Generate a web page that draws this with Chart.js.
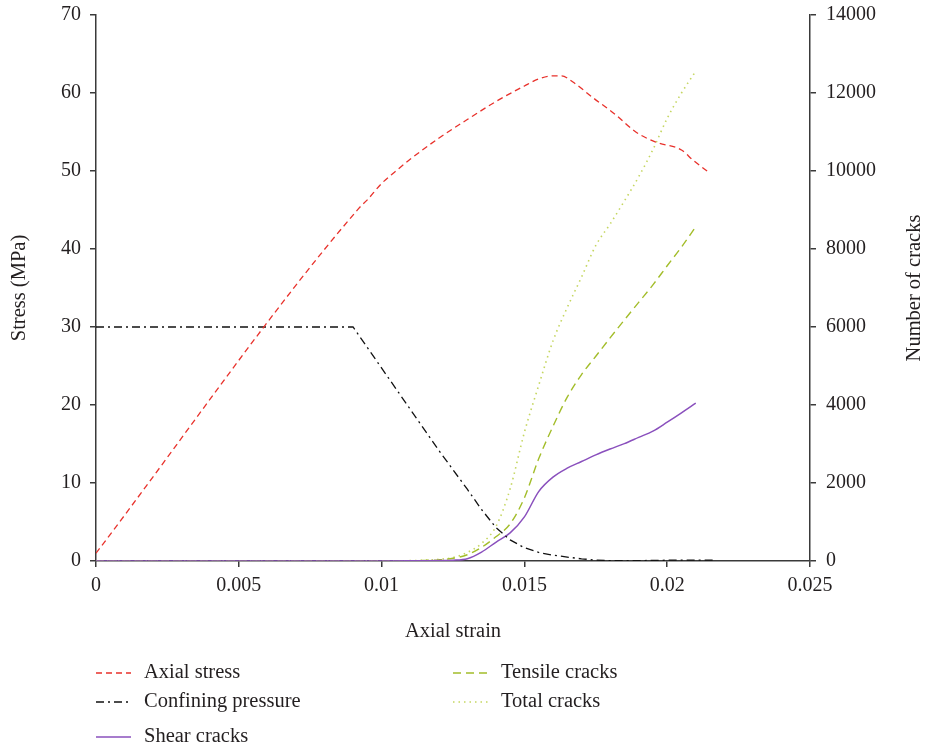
<!DOCTYPE html>
<html>
<head>
<meta charset="utf-8">
<title>Stress and cracks vs axial strain</title>
<script src="https://cdn.jsdelivr.net/npm/chart.js@4.4.1/dist/chart.umd.min.js"></script>
<style>
  html, body { margin: 0; padding: 0; background: #fff; }
  #wrap { width: 929px; height: 750px; }
</style>
</head>
<body>
<div id="wrap"><canvas id="chart" width="929" height="750"></canvas></div>
<script>
/* ── DATA ── */
const stressStrain = [0, 0.0092, 0.0095, 0.010, 0.0105, 0.011, 0.012, 0.013, 0.014, 0.015, 0.0155, 0.016, 0.0163, 0.0167, 0.0174, 0.0182, 0.0189, 0.0196, 0.0205, 0.0209, 0.0215];
const axialStress = [1.0, 45.2, 46.3, 48.4, 50.0, 51.5, 54.2, 56.6, 58.9, 60.9, 61.8, 62.2, 62.2, 61.4, 59.4, 57.2, 55.0, 53.7, 52.7, 51.4, 49.7];

const confStrain = [0, 0.009, 0.012, 0.0125, 0.013, 0.0135, 0.014, 0.0145, 0.015, 0.0155, 0.016, 0.0165, 0.017, 0.0175, 0.018, 0.019, 0.020, 0.021, 0.0216];
const confPressure = [30, 30, 14.2, 11.7, 9.2, 6.6, 4.3, 2.7, 1.7, 1.1, 0.75, 0.5, 0.28, 0.12, 0.05, 0.05, 0.1, 0.1, 0.1];

const crackStrain = [0, 0.002, 0.004, 0.006, 0.008, 0.010, 0.011, 0.0115, 0.012, 0.0125, 0.013, 0.0135, 0.014, 0.0145, 0.015, 0.0155, 0.016, 0.0165, 0.017, 0.0175, 0.018, 0.0185, 0.019, 0.0195, 0.020, 0.0205, 0.021];
const shearCracks = [0, 0, 0, 0, 0, 2, 5, 8, 12, 20, 60, 230, 480, 720, 1130, 1780, 2150, 2380, 2550, 2720, 2870, 3010, 3170, 3330, 3560, 3800, 4050];
const tensileCracks = [0, 0, 0, 0, 0, 2, 5, 15, 30, 70, 160, 350, 620, 950, 1620, 2620, 3450, 4200, 4780, 5250, 5720, 6180, 6630, 7080, 7570, 8050, 8570];
const totalCracks = [0, 0, 0, 0, 0, 4, 10, 23, 42, 90, 220, 450, 880, 1850, 3300, 4500, 5640, 6500, 7280, 8090, 8640, 9230, 9850, 10550, 11350, 12000, 12560];

const xTicks = [0, 0.005, 0.01, 0.015, 0.02, 0.025];
const stressTicks = [0, 10, 20, 30, 40, 50, 60, 70];
const crackTicks = [0, 2000, 4000, 6000, 8000, 10000, 12000, 14000];

const FONT = "'Liberation Serif', 'DejaVu Serif', serif";
const INK = "#231f20";
const AXIS = "#3a3a3a";

const pts = (xs, ys) => xs.map((x, i) => ({ x: x, y: ys[i] }));

/* ── PLUGINS ── */
// legend below the x title, two columns
const legendRows = [
  { ds: 0, x: 96, y: 673 },
  { ds: 1, x: 96, y: 702 },
  { ds: 2, x: 96, y: 737 },
  { ds: 3, x: 453, y: 673 },
  { ds: 4, x: 453, y: 702 },
];

const sideLegend = {
  id: "sideLegend",
  afterDraw(chart) {
    const c = chart.ctx;
    c.save();
    c.font = "20.5px " + FONT;
    c.fillStyle = INK;
    c.textBaseline = "middle";
    legendRows.forEach((r) => {
      const d = chart.data.datasets[r.ds];
      c.save();
      c.strokeStyle = d.borderColor;
      c.lineWidth = d.borderWidth;
      c.setLineDash(d.borderDash || []);
      c.beginPath();
      c.moveTo(r.x, r.y);
      c.lineTo(r.x + 35, r.y);
      c.stroke();
      c.restore();
      c.fillText(d.label, r.x + 48, r.y);
    });

    // right axis title reads bottom-to-top
    const a = chart.chartArea;
    c.translate(915, (a.top + a.bottom) / 2);
    c.rotate(-Math.PI / 2);
    c.textAlign = "center";
    c.fillText("Number of cracks", 0, 0);
    c.restore();
  },
};

/* ── CHART ── */
const axisBase = {
  border: { display: true, color: AXIS, width: 1.5 },
  grid: { drawOnChartArea: false, drawTicks: true, tickLength: 6, color: AXIS, lineWidth: 1.5 },
};

function fixWidth(w) {
  return (s) => {
    s.width = w;
    s.paddingTop = 0;
    s.paddingBottom = 0;
  };
}

new Chart(document.getElementById("chart"), {
  type: "line",
  data: {
    datasets: [
      {
        label: "Axial stress",
        data: pts(stressStrain, axialStress),
        yAxisID: "y",
        borderColor: "#e8312b",
        borderWidth: 1.3,
        borderDash: [6, 4],
      },
      {
        label: "Confining pressure",
        data: pts(confStrain, confPressure),
        yAxisID: "y",
        borderColor: "#111",
        borderWidth: 1.3,
        borderDash: [8, 4, 2, 4],
        cubicInterpolationMode: "default",
        tension: 0,
      },
      {
        label: "Shear cracks",
        data: pts(crackStrain, shearCracks),
        yAxisID: "y2",
        borderColor: "#8a50bd",
        borderWidth: 1.5,
        borderDash: [],
      },
      {
        label: "Tensile cracks",
        data: pts(crackStrain, tensileCracks),
        yAxisID: "y2",
        borderColor: "#a3bd2a",
        borderWidth: 1.4,
        borderDash: [8, 5],
      },
      {
        label: "Total cracks",
        data: pts(crackStrain, totalCracks),
        yAxisID: "y2",
        borderColor: "#c5d660",
        borderWidth: 1.6,
        borderDash: [1.5, 4],
      },
    ],
  },
  options: {
    responsive: false,
    animation: false,
    cubicInterpolationMode: "monotone",
    elements: { point: { radius: 0 } },
    layout: { padding: { top: 15, right: 0, bottom: 100, left: 0 } },
    plugins: { legend: { display: false }, tooltip: { enabled: false } },
    scales: {
      x: {
        ...axisBase,
        type: "linear",
        min: 0,
        max: 0.025,
        afterBuildTicks: (s) => { s.ticks = xTicks.map((v) => ({ value: v })); },
        afterFit: (s) => { s.height = 89; },
        ticks: {
          color: INK,
          padding: 7,
          maxRotation: 0,
          font: { family: FONT, size: 20 },
          callback: (v) => String(+v.toFixed(4)),
        },
        title: {
          display: true,
          text: "Axial strain",
          color: INK,
          font: { family: FONT, size: 20.5 },
          padding: { top: 0, bottom: 6 },
        },
      },
      y: {
        ...axisBase,
        position: "left",
        min: 0,
        max: 70,
        afterBuildTicks: (s) => { s.ticks = stressTicks.map((v) => ({ value: v })); },
        afterFit: fixWidth(96),
        ticks: { color: INK, padding: 9, font: { family: FONT, size: 20 } },
        title: {
          display: true,
          text: "Stress (MPa)",
          color: INK,
          font: { family: FONT, size: 20.5 },
          padding: { top: 7, bottom: 0 },
        },
      },
      y2: {
        ...axisBase,
        position: "right",
        min: 0,
        max: 14000,
        afterBuildTicks: (s) => { s.ticks = crackTicks.map((v) => ({ value: v })); },
        afterFit: fixWidth(119),
        ticks: {
          color: INK,
          padding: 10,
          font: { family: FONT, size: 20 },
          callback: (v) => String(v),
        },
      },
    },
  },
  plugins: [sideLegend],
});
</script>
</body>
</html>
